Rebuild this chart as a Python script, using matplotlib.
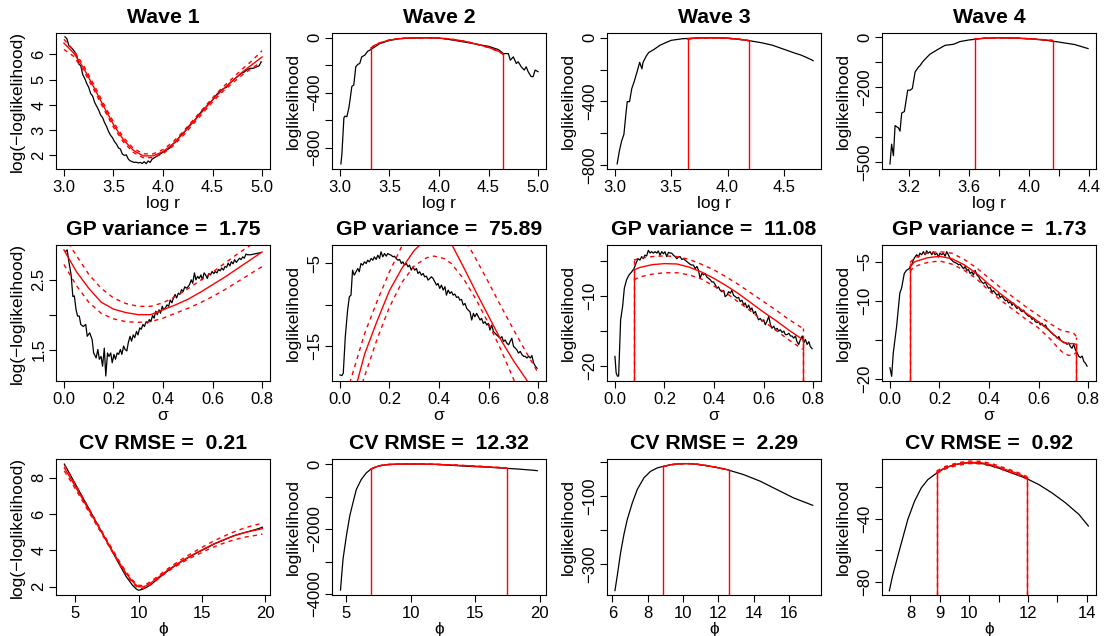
import matplotlib
matplotlib.use("Agg")
import matplotlib.pyplot as plt

plt.rcParams['font.family'] = ['Liberation Sans', 'DejaVu Sans']
plt.rcParams['axes.unicode_minus'] = True

# ---------------- Row 1: log r ----------------
w1_x = [3.01,3.03,3.05,3.07,3.09,3.11,3.13,3.15,3.17,3.19,3.21,3.23,3.25,3.27,3.29,3.31,3.33,3.35,3.37,3.39,
        3.41,3.43,3.45,3.47,3.49,3.51,3.53,3.55,3.57,3.59,3.61,3.63,3.65,3.67,3.69,3.71,3.73,3.75,3.77,3.79,
        3.81,3.83,3.85,3.87,3.89,3.91,3.93,3.95,3.97,3.99,4.01,4.04,4.07,4.10,4.13,4.16,4.19,4.22,4.25,4.28,
        4.31,4.34,4.37,4.40,4.43,4.46,4.49,4.52,4.55,4.58,4.61,4.64,4.67,4.70,4.73,4.76,4.79,4.82,4.85,4.88,
        4.91,4.94,4.97,4.99]
w1_y = [6.70,6.62,6.35,6.28,6.20,6.10,5.95,5.62,5.55,5.20,5.05,4.85,4.70,4.45,4.35,4.10,3.95,3.80,3.60,3.50,
        3.30,3.15,2.95,2.80,2.70,2.55,2.45,2.30,2.25,2.05,2.00,2.02,1.85,1.78,1.75,1.72,1.73,1.70,1.72,1.68,
        1.75,1.67,1.78,1.72,1.85,1.90,1.95,2.00,2.05,2.10,2.15,2.22,2.30,2.45,2.55,2.70,2.85,2.95,3.10,3.25,
        3.35,3.50,3.65,3.80,3.90,4.05,4.15,4.30,4.45,4.55,4.65,4.70,4.85,4.95,5.05,5.15,5.25,5.30,5.40,5.45,
        5.45,5.50,5.55,5.70]
w1_rx = [3.0,3.1,3.2,3.3,3.4,3.5,3.6,3.7,3.8,3.9,4.0,4.1,4.2,4.3,4.4,4.5,4.6,4.7,4.8,4.9,5.0]
w1_rc = [6.45,6.05,5.45,4.72,3.95,3.22,2.62,2.20,1.98,1.98,2.15,2.45,2.85,3.30,3.75,4.20,4.60,4.95,5.30,5.60,5.90]
w1_ru = [6.60,6.15,5.55,4.82,4.05,3.32,2.71,2.28,2.06,2.06,2.23,2.53,2.93,3.38,3.83,4.28,4.69,5.05,5.42,5.76,6.15]
w1_rl = [6.20,5.92,5.35,4.62,3.85,3.12,2.53,2.12,1.91,1.91,2.07,2.37,2.77,3.22,3.67,4.12,4.52,4.86,5.19,5.46,5.72]

w2_x = [3.01,3.02,3.04,3.05,3.07,3.09,3.10,3.12,3.14,3.16,3.18,3.20,3.22,3.25,3.28,3.30,3.35,3.40,3.50,3.60,
        3.70,3.80,3.90,4.00,4.10,4.20,4.30,4.40,4.50,4.55,4.60,4.65,4.70,4.72,4.75,4.78,4.80,4.83,4.86,4.88,
        4.90,4.93,4.95,4.97,5.00]
w2_y = [-919,-847,-583,-571,-575,-511,-463,-355,-343,-211,-194,-187,-139,-127,-98,-91,-67,-43,-19,-7,
        -2,-1,0,-2,-12,-24,-36,-50,-62,-74,-86,-115,-115,-163,-139,-187,-175,-211,-235,-211,
        -247,-283,-283,-235,-247]
w2_rx = [3.314,3.35,3.4,3.5,3.6,3.7,3.8,3.9,4.0,4.1,4.2,4.3,4.4,4.5,4.6,4.649]
w2_rc = [-75,-55,-38,-16,-6,-1,0,0,-2,-8,-18,-32,-50,-70,-98,-120]

w3_x = [3.02,3.04,3.06,3.08,3.10,3.11,3.13,3.15,3.17,3.20,3.22,3.24,3.25,3.28,3.30,3.35,3.40,3.45,3.50,3.60,
        3.70,3.80,3.90,4.00,4.10,4.20,4.30,4.40,4.50,4.60,4.65,4.70,4.72,4.74,4.76]
w3_y = [-792,-710,-648,-607,-463,-401,-401,-319,-278,-206,-154,-195,-154,-113,-93,-72,-47,-31,-16,-6,
        -2,0,0,-2,-10,-19,-31,-47,-72,-97,-108,-123,-130,-136,-144]
w3_rx = [3.645,3.7,3.8,3.9,4.0,4.1,4.192]
w3_rc = [-8,-3,-1,-1,-3,-9,-18]

w4_x = [3.073,3.084,3.096,3.107,3.129,3.14,3.151,3.169,3.191,3.207,3.222,3.24,3.262,3.273,3.289,3.307,3.34,
        3.396,3.44,3.496,3.54,3.596,3.696,3.796,3.896,3.996,4.096,4.196,4.302,4.391]
w4_y = [-506,-427,-473,-353,-362,-375,-303,-297,-212,-212,-205,-140,-120,-114,-100,-88,-68,
        -48,-33,-29,-18,-12,-5,-3,-4,-7,-12,-20,-30,-46]
w4_rx = [3.636,3.7,3.8,3.9,4.0,4.1,4.156]
w4_rc = [-8,-5,-3,-4,-7,-11,-14]

# ---------------- Row 2: sigma ----------------
s5_x = [0.006,0.013,0.020,0.029,0.036,0.042,0.049,0.055,0.062,0.068,0.078,0.088,0.094,0.104,0.114,0.120,0.130,0.137,0.143,0.150,
        0.156,0.163,0.169,0.176,0.182,0.189,0.195,0.202,0.208,0.215,0.221,0.228,0.234,0.241,0.247,0.254,0.260,0.267,0.273,0.280,
        0.286,0.293,0.299,0.306,0.312,0.319,0.325,0.332,0.338,0.345,0.351,0.358,0.364,0.371,0.377,0.384,0.390,0.397,0.403,0.410,
        0.416,0.423,0.429,0.436,0.442,0.449,0.455,0.462,0.468,0.475,0.481,0.488,0.494,0.501,0.507,0.514,0.520,0.527,0.533,0.540,
        0.546,0.553,0.559,0.566,0.572,0.579,0.585,0.592,0.598,0.605,0.611,0.618,0.624,0.631,0.637,0.644,0.650,0.657,0.663,0.670,
        0.676,0.683,0.689,0.696,0.702,0.709,0.715,0.722,0.728,0.735,0.741,0.754,0.767,0.780,0.793]
s5_y = [2.905,2.93,2.76,2.57,2.26,2.27,2.07,1.98,1.98,1.86,1.83,1.86,1.69,1.74,1.64,1.45,1.38,1.50,1.36,1.40,
        1.26,1.52,1.12,1.45,1.40,1.45,1.31,1.43,1.36,1.45,1.43,1.50,1.43,1.55,1.50,1.48,1.60,1.69,1.62,1.71,
        1.67,1.76,1.71,1.81,1.79,1.86,1.83,1.90,1.88,1.93,1.90,1.99,1.95,2.05,2.00,2.07,2.02,2.12,2.07,2.10,
        2.14,2.12,2.21,2.17,2.24,2.29,2.24,2.31,2.29,2.36,2.33,2.40,2.38,2.40,2.43,2.50,2.45,2.60,2.50,2.55,
        2.52,2.57,2.50,2.60,2.57,2.52,2.59,2.57,2.62,2.59,2.62,2.60,2.65,2.63,2.67,2.64,2.69,2.68,2.74,2.70,
        2.76,2.73,2.79,2.75,2.78,2.81,2.79,2.83,2.81,2.87,2.86,2.86,2.87,2.88,2.89]
s5_rx = [0.0,0.05,0.1,0.15,0.2,0.25,0.3,0.35,0.4,0.45,0.5,0.55,0.6,0.65,0.7,0.75,0.8]
s5_rc = [2.93,2.62,2.38,2.18,2.08,2.03,2.00,2.00,2.07,2.14,2.22,2.32,2.43,2.54,2.66,2.78,2.90]
s5_ru = [3.13,2.85,2.58,2.38,2.24,2.16,2.12,2.12,2.17,2.26,2.37,2.49,2.61,2.74,2.87,2.99,3.10]
s5_rl = [2.72,2.42,2.18,2.02,1.94,1.90,1.89,1.90,1.95,2.02,2.09,2.17,2.26,2.36,2.47,2.58,2.69]

s6_x = [0.0,0.008,0.0135,0.0217,0.031,0.038,0.0447,0.051,0.058,0.065,0.072,0.078,0.085,0.092,0.099,0.106,0.112,0.119,0.126,0.133,
        0.139,0.146,0.153,0.16,0.166,0.173,0.18,0.187,0.193,0.2,0.207,0.214,0.22,0.227,0.234,0.241,0.248,0.254,0.261,0.268,
        0.275,0.281,0.288,0.295,0.302,0.309,0.315,0.322,0.329,0.336,0.342,0.349,0.356,0.363,0.369,0.376,0.383,0.39,0.396,0.403,
        0.41,0.417,0.424,0.43,0.437,0.444,0.451,0.457,0.464,0.471,0.478,0.484,0.491,0.498,0.505,0.512,0.518,0.525,0.532,0.539,
        0.545,0.552,0.559,0.566,0.572,0.579,0.586,0.593,0.599,0.606,0.613,0.62,0.627,0.633,0.64,0.647,0.654,0.66,0.667,0.674,
        0.681,0.687,0.694,0.701,0.708,0.714,0.721,0.728,0.735,0.742,0.748,0.755,0.762,0.769,0.775,0.782,0.789,0.796]
s6_y = [-18.56,-18.64,-18.36,-13.9,-10.67,-9.05,-8.85,-5.81,-6.42,-6.01,-5.61,-6.01,-5.0,-5.2,-4.8,-5.0,-4.6,-4.8,-4.39,-4.6,
        -4.19,-4.51,-3.99,-4.39,-3.58,-4.19,-3.79,-4.11,-3.79,-3.91,-3.99,-4.19,-4.11,-4.39,-4.6,-4.51,-5.0,-4.8,-5.2,-5.0,
        -5.4,-5.2,-5.81,-5.4,-5.81,-5.61,-6.21,-6.01,-6.42,-6.21,-6.62,-6.54,-7.02,-6.82,-6.62,-6.82,-7.23,-7.63,-7.43,-8.04,
        -7.63,-8.24,-7.83,-8.85,-8.24,-8.64,-8.44,-8.85,-8.72,-9.13,-9.05,-9.45,-9.37,-10.06,-9.86,-10.47,-10.67,-10.87,-11.88,-11.07,
        -11.48,-11.07,-11.48,-11.88,-11.68,-12.29,-12.09,-12.49,-12.29,-13.1,-12.49,-13.3,-13.5,-13.7,-13.9,-14.1,-13.9,-14.5,-14.3,-14.7,
        -14.9,-14.5,-14.1,-15.1,-15.3,-15.5,-15.9,-15.7,-16.1,-16.3,-16.3,-16.5,-16.3,-16.5,-16.2,-17.1,-17.5,-17.75]
s6_cx = [0.06,0.1,0.15,0.2,0.25,0.3,0.35,0.4,0.45,0.5,0.55,0.6,0.65,0.7,0.75,0.78]
s6_cy = [-20.5,-16.0,-12.0,-8.3,-5.6,-3.4,-2.0,-1.6,-2.6,-5.5,-8.5,-11.4,-14.3,-16.8,-19.0,-20.5]
s6_ux = [0.03,0.1,0.15,0.2,0.25,0.3,0.35,0.4,0.45,0.5,0.55,0.6,0.65,0.7,0.75,0.8]
s6_uy = [-20.5,-13.5,-9.6,-6.0,-2.9,-0.8,0.3,0.5,-0.3,-1.8,-4.5,-7.3,-10.2,-13.0,-15.7,-18.3]
s6_lx = [0.08,0.15,0.2,0.25,0.3,0.35,0.38,0.42,0.45,0.5,0.55,0.6,0.65,0.7,0.73]
s6_ly = [-20.5,-14.2,-10.3,-7.3,-5.3,-4.3,-4.1,-4.4,-5.0,-6.9,-9.4,-12.3,-15.5,-19.0,-21.0]

s7_x = [0.0,0.005,0.01,0.015,0.023,0.031,0.038,0.047,0.057,0.067,0.077,0.088,0.094,0.101,0.108,0.115,0.121,0.128,0.135,0.142,
        0.148,0.155,0.162,0.169,0.175,0.182,0.189,0.196,0.202,0.209,0.216,0.223,0.229,0.236,0.243,0.25,0.256,0.263,0.27,0.277,
        0.283,0.29,0.297,0.304,0.31,0.317,0.324,0.331,0.337,0.344,0.351,0.358,0.364,0.371,0.378,0.385,0.391,0.398,0.405,0.412,
        0.418,0.425,0.432,0.439,0.445,0.452,0.459,0.466,0.472,0.479,0.486,0.493,0.499,0.506,0.513,0.52,0.526,0.533,0.54,0.547,
        0.553,0.56,0.567,0.574,0.58,0.587,0.594,0.601,0.607,0.614,0.621,0.628,0.634,0.641,0.648,0.655,0.661,0.668,0.675,0.682,
        0.688,0.695,0.702,0.709,0.715,0.722,0.729,0.735,0.742,0.749,0.756,0.762,0.769,0.776,0.783,0.789,0.796]
s7_y = [-18.6,-20.95,-21.4,-21.4,-13.4,-11.5,-8.9,-7.7,-7.0,-6.6,-6.1,-5.1,-4.7,-4.9,-4.4,-4.7,-4.2,-4.3,-3.5,-3.9,
        -3.7,-3.9,-3.7,-3.9,-3.6,-4.2,-3.7,-4.0,-3.7,-4.4,-3.8,-3.9,-3.9,-4.2,-4.4,-4.7,-4.5,-4.4,-4.8,-4.7,
        -4.9,-5.1,-5.3,-5.5,-5.6,-5.6,-6.1,-5.8,-6.3,-7.5,-6.8,-7.0,-6.8,-7.3,-7.5,-7.7,-8.0,-8.0,-8.4,-8.9,
        -8.7,-9.2,-9.4,-9.2,-10.1,-9.9,-9.4,-9.6,-9.2,-9.9,-10.1,-10.3,-10.2,-10.8,-10.6,-11.3,-11.0,-11.7,-11.3,-12.0,
        -11.7,-12.5,-12.2,-12.9,-13.4,-13.2,-13.6,-13.4,-14.1,-13.6,-12.9,-14.1,-14.6,-14.3,-14.8,-14.6,-15.0,-14.8,-15.2,-15.0,
        -15.5,-15.5,-15.3,-15.7,-15.7,-16.0,-15.7,-16.5,-16.9,-16.2,-15.7,-16.7,-16.2,-16.9,-16.5,-17.2,-17.5]
s7_rx = [0.077,0.1,0.15,0.2,0.25,0.3,0.35,0.4,0.45,0.5,0.55,0.6,0.65,0.7,0.758]
s7_rc = [-6.3,-5.95,-5.55,-5.4,-5.45,-5.9,-6.6,-7.5,-8.55,-9.7,-11.0,-12.3,-13.5,-14.8,-16.2]
s7_ru = [-4.9,-4.6,-4.4,-4.3,-4.4,-4.8,-5.5,-6.3,-7.3,-8.4,-9.6,-10.8,-12.0,-13.3,-14.6]
s7_rl = [-7.7,-7.3,-6.9,-6.7,-6.7,-7.0,-7.6,-8.6,-9.6,-10.9,-12.2,-13.6,-14.9,-16.2,-17.6]

s8_x = [0.0,0.007,0.0135,0.027,0.04,0.047,0.058,0.067,0.077,0.088,0.094,0.101,0.108,0.115,0.121,0.128,0.135,0.142,0.148,0.155,
        0.162,0.169,0.175,0.182,0.189,0.196,0.202,0.209,0.216,0.223,0.229,0.236,0.243,0.25,0.256,0.263,0.27,0.277,0.283,0.29,
        0.297,0.304,0.31,0.317,0.324,0.331,0.337,0.344,0.351,0.358,0.364,0.371,0.378,0.385,0.391,0.398,0.405,0.412,0.418,0.425,
        0.432,0.439,0.445,0.452,0.459,0.466,0.472,0.479,0.486,0.493,0.499,0.506,0.513,0.52,0.526,0.533,0.54,0.547,0.553,0.56,
        0.567,0.574,0.58,0.587,0.594,0.601,0.607,0.614,0.621,0.628,0.634,0.641,0.648,0.655,0.661,0.668,0.675,0.682,0.688,0.695,
        0.702,0.709,0.715,0.722,0.729,0.735,0.742,0.749,0.756,0.762,0.769,0.776,0.783,0.789,0.796]
s8_y = [-18.6,-19.7,-16.7,-13.3,-9.0,-8.4,-6.5,-6.1,-5.9,-5.4,-4.8,-4.4,-4.1,-4.4,-3.9,-4.1,-3.7,-4.1,-3.6,-3.9,
        -3.7,-4.1,-3.7,-4.1,-3.9,-4.4,-3.9,-4.1,-3.9,-4.3,-3.7,-4.1,-4.6,-4.8,-5.0,-5.1,-5.2,-5.4,-5.3,-5.6,
        -5.9,-5.6,-6.1,-6.0,-6.5,-6.3,-6.7,-6.1,-6.7,-6.9,-7.3,-7.6,-7.8,-7.6,-8.0,-8.4,-8.3,-8.9,-8.7,-9.0,
        -9.3,-9.1,-9.6,-9.4,-9.7,-10.0,-9.9,-10.3,-10.1,-10.6,-10.3,-10.7,-11.0,-10.8,-11.2,-11.4,-11.2,-11.6,-11.8,-12.0,
        -12.0,-12.4,-12.2,-12.7,-12.8,-12.7,-13.1,-12.9,-13.3,-13.1,-13.5,-13.7,-14.0,-14.2,-14.4,-14.5,-14.8,-14.6,-15.0,-15.2,
        -15.4,-15.4,-15.6,-15.4,-15.9,-16.1,-15.6,-16.3,-16.7,-17.1,-17.3,-17.1,-17.8,-18.0,-18.4]
s8_rx = [0.081,0.1,0.15,0.2,0.25,0.3,0.35,0.4,0.45,0.5,0.55,0.6,0.65,0.68,0.7,0.72,0.74,0.753]
s8_rc = [-5.6,-5.0,-4.5,-4.3,-4.6,-5.4,-6.5,-7.9,-9.2,-10.4,-11.6,-12.7,-14.0,-14.9,-15.3,-15.5,-15.5,-15.6]
s8_ru = [-5.1,-4.5,-3.9,-3.7,-3.9,-4.7,-5.8,-7.1,-8.4,-9.6,-10.8,-11.9,-13.0,-13.6,-13.9,-14.0,-14.1,-14.6]
s8_rl = [-6.2,-5.6,-5.1,-4.9,-5.3,-6.1,-7.2,-8.7,-10.0,-11.2,-12.4,-13.5,-15.0,-16.1,-16.7,-17.0,-17.0,-16.6]

# ---------------- Row 3: phi ----------------
p9_x = [4.13,4.5,5,5.5,6,6.5,7,7.5,8,8.5,9,9.5,9.8,10,10.3,10.6,11,11.5,12,12.5,
        13,13.5,14,14.5,15,15.5,16,16.5,17,17.5,18,18.5,19,19.5,19.8]
p9_y = [8.76,8.29,7.66,7.02,6.39,5.75,5.12,4.48,3.85,3.20,2.58,2.10,1.88,1.80,1.85,1.95,2.12,2.42,2.70,2.97,
        3.20,3.43,3.63,3.82,4.00,4.17,4.36,4.50,4.65,4.80,4.91,5.00,5.10,5.20,5.28]
p9_rc = [8.55,8.12,7.52,6.92,6.30,5.70,5.10,4.50,3.90,3.30,2.75,2.30,2.10,2.00,1.98,2.05,2.22,2.48,2.75,3.00,
         3.23,3.45,3.65,3.84,4.02,4.20,4.37,4.52,4.66,4.79,4.90,5.00,5.08,5.15,5.20]
p9_ru = [8.72,8.27,7.65,7.03,6.40,5.79,5.18,4.58,3.98,3.38,2.83,2.38,2.18,2.08,2.06,2.13,2.30,2.56,2.83,3.08,
         3.32,3.55,3.76,3.96,4.16,4.35,4.54,4.70,4.86,5.01,5.14,5.26,5.36,5.45,5.50]
p9_rl = [8.38,7.97,7.39,6.81,6.20,5.61,5.02,4.42,3.82,3.22,2.67,2.22,2.02,1.92,1.90,1.97,2.14,2.40,2.67,2.92,
         3.14,3.35,3.54,3.72,3.88,4.05,4.20,4.34,4.46,4.57,4.66,4.74,4.80,4.85,4.90]

p10_x = [4.54,4.64,4.74,5.0,5.26,5.51,5.77,6.15,6.54,6.92,7.56,8.33,9.36,10.64,11.92,13.2,14.49,15.77,17.05,18.33,19.62,19.82]
p10_y = [-3878,-3380,-2914,-2203,-1594,-1188,-782,-477,-274,-152,-51,-10,0,0,-10,-41,-72,-92,-123,-154,-195,-205]
p10_rx = [6.92,7.3,7.7,8.2,9.0,10.0,11.0,12.0,13.0,14.0,15.0,16.0,17.0,17.46]
p10_rc = [-152,-85,-45,-18,-3,0,-2,-10,-25,-45,-65,-88,-112,-130]

p11_x = [6.15,6.28,6.47,6.66,6.85,7.13,7.41,7.79,8.16,8.54,8.91,9.29,9.67,10.04,10.42,10.79,11.55,12.49,13.42,14.36,15.3,16.24,17.33]
p11_y = [-378,-334,-266,-212,-168,-120,-80.5,-46,-27,-17,-12,-7.3,-5.4,-4.4,-4.4,-6.3,-12.2,-22,-36.6,-56,-80.5,-105,-127]
p11_rx = [8.88,9.3,9.7,10.0,10.4,10.8,11.2,11.6,12.0,12.58]
p11_rc = [-13,-7.8,-5.3,-4.4,-4.4,-6.2,-9,-12.5,-16.5,-23]

p12_x = [7.28,7.39,7.57,7.74,7.91,8.14,8.37,8.59,8.82,9.17,9.51,9.85,10.19,10.54,10.99,11.45,11.91,12.37,12.82,13.28,13.74,14.06]
p12_y = [-85.7,-76.2,-63.6,-52.0,-40.4,-28.8,-20.4,-15.2,-12.0,-7.8,-5.7,-4.6,-4.6,-5.3,-7.8,-11.0,-14.1,-18.3,-23.6,-29.9,-37.3,-44.6]
p12_rx = [8.89,9.2,9.6,10.0,10.4,10.8,11.2,11.6,11.97]
p12_rc = [-10.5,-7.5,-5.3,-4.2,-4.4,-6.0,-8.5,-11.0,-14.0]
p12_ru = [-9.7,-6.7,-4.5,-3.4,-3.6,-5.2,-7.7,-10.2,-13.2]
p12_rl = [-11.3,-8.3,-6.1,-5.0,-5.2,-6.8,-9.3,-11.8,-14.8]

titles = ["Wave 1", "Wave 2", "Wave 3", "Wave 4",
          "GP variance =  1.75", "GP variance =  75.89", "GP variance =  11.08", "GP variance =  1.73",
          "CV RMSE =  0.21", "CV RMSE =  12.32", "CV RMSE =  2.29", "CV RMSE =  0.92"]
xlabels = ["log r", "σ", "ϕ"]
ylab_first = "log(−loglikelihood)"
ylab_other = "loglikelihood"

# ---------------- layout / style ----------------
W, H = 1109, 636
fig = plt.figure(figsize=(W / 100, H / 100), dpi=100)
fig.patch.set_facecolor('white')
col_left = [56, 332, 607, 882]
row_top = [33, 245, 459]
AW, AH = 214, 136
LW = 1.0
DASH = (0, (3.0, 3.0))


def make_ax(r, c):
    return fig.add_axes([col_left[c] / W, (H - row_top[r] - AH) / H, AW / W, AH / H])


def style(ax, idx, xlim, ylim, xt, xtl, yt, ytl):
    r, c = divmod(idx, 4)
    ax.set_xlim(xlim)
    ax.set_ylim(ylim)
    ax.set_xticks(xt)
    ax.set_xticklabels(xtl)
    ax.set_yticks(yt)
    ax.set_yticklabels(ytl, rotation=90, va='center')
    ax.tick_params(direction='out', length=5, width=0.8, labelsize=12, colors='black')
    ax.tick_params(axis='x', pad=3)
    ax.tick_params(axis='y', pad=2)
    for s in ax.spines.values():
        s.set_linewidth(0.8)
    ax.set_title(titles[idx], fontsize=15.3, fontweight='bold', pad=7)
    ax.set_xlabel(xlabels[r], fontsize=12.5)
    ax.set_ylabel(ylab_first if c == 0 else ylab_other, fontsize=12.5)
    ax.xaxis.set_label_coords(0.5, -0.2)
    ax.yaxis.set_label_coords(-0.145, 0.5)


def black(ax, x, y):
    ax.plot(x, y, color='black', lw=0.9)


def red(ax, x, c, u=None, l=None, drop=False):
    ax.plot(x, c, color='red', lw=LW)
    ax.plot(x, u if u is not None else c, color='red', lw=LW, ls=DASH)
    ax.plot(x, l if l is not None else c, color='red', lw=LW, ls=DASH)
    if drop:
        y0 = ax.get_ylim()[0]
        for i in (0, -1):
            ax.plot([x[i], x[i]], [y0, c[i]], color='red', lw=LW)
            if u is not None:
                ax.plot([x[i], x[i]], [y0, u[i]], color='red', lw=LW, ls=DASH)


M = "\u2212"

# Panel 1
ax = make_ax(0, 0)
style(ax, 0, (2.92, 5.08), (1.46, 6.85), [3.0, 3.5, 4.0, 4.5, 5.0], ["3.0", "3.5", "4.0", "4.5", "5.0"],
      [2, 3, 4, 5, 6], ["2", "3", "4", "5", "6"])
black(ax, w1_x, w1_y)
red(ax, w1_rx, w1_rc, w1_ru, w1_rl)

# Panel 2
ax = make_ax(0, 1)
style(ax, 1, (2.92, 5.08), (-956, 35), [3.0, 3.5, 4.0, 4.5, 5.0], ["3.0", "3.5", "4.0", "4.5", "5.0"],
      [0, -200, -400, -600, -800], ["0", "", M + "400", "", M + "800"])
black(ax, w2_x, w2_y)
red(ax, w2_rx, w2_rc, drop=True)

# Panel 3
ax = make_ax(0, 2)
style(ax, 2, (2.93, 4.83), (-824, 30), [3.0, 3.5, 4.0, 4.5], ["3.0", "3.5", "4.0", "4.5"],
      [0, -200, -400, -600, -800], ["0", "", M + "400", "", M + "800"])
black(ax, w3_x, w3_y)
red(ax, w3_rx, w3_rc, drop=True)

# Panel 4
ax = make_ax(0, 3)
style(ax, 3, (3.02, 4.444), (-526, 16), [3.2, 3.4, 3.6, 3.8, 4.0, 4.2, 4.4], ["3.2", "", "3.6", "", "4.0", "", "4.4"],
      [0, -100, -200, -300, -400, -500], ["0", "", M + "200", "", "", M + "500"])
black(ax, w4_x, w4_y)
red(ax, w4_rx, w4_rc, drop=True)

sx = [0.0, 0.2, 0.4, 0.6, 0.8]
sxl = ["0.0", "0.2", "0.4", "0.6", "0.8"]
# Panel 5
ax = make_ax(1, 0)
style(ax, 4, (-0.032, 0.832), (1.048, 3.0), sx, sxl, [1.5, 2.0, 2.5], ["1.5", "", "2.5"])
black(ax, s5_x, s5_y)
red(ax, s5_rx, s5_rc, s5_ru, s5_rl)

# Panel 6
ax = make_ax(1, 1)
style(ax, 5, (-0.032, 0.832), (-19.3, -2.75), sx, sxl, [-5, -10, -15], [M + "5", "", M + "15"])
black(ax, s6_x, s6_y)
ax.plot(s6_cx, s6_cy, color='red', lw=LW)
ax.plot(s6_ux, s6_uy, color='red', lw=LW, ls=DASH)
ax.plot(s6_lx, s6_ly, color='red', lw=LW, ls=DASH)

# Panel 7
ax = make_ax(1, 2)
style(ax, 6, (-0.032, 0.832), (-22.1, -2.75), sx, sxl, [-5, -10, -15, -20], ["", M + "10", "", M + "20"])
black(ax, s7_x, s7_y)
red(ax, s7_rx, s7_rc, s7_ru, s7_rl, drop=True)

# Panel 8
ax = make_ax(1, 3)
style(ax, 7, (-0.032, 0.832), (-20.3, -2.85), sx, sxl, [-5, -10, -15, -20], [M + "5", M + "10", "", M + "20"])
black(ax, s8_x, s8_y)
red(ax, s8_rx, s8_rc, s8_ru, s8_rl, drop=True)

# Panel 9
ax = make_ax(2, 0)
style(ax, 8, (3.47, 20.4), (1.54, 9.04), [5, 10, 15, 20], ["5", "10", "15", "20"], [2, 4, 6, 8], ["2", "4", "6", "8"])
black(ax, p9_x, p9_y)
red(ax, p9_x, p9_rc, p9_ru, p9_rl)

# Panel 10
ax = make_ax(2, 1)
style(ax, 9, (3.88, 20.5), (-4030, 155), [5, 10, 15, 20], ["5", "10", "15", "20"],
      [0, -1000, -2000, -3000, -4000], ["0", "", M + "2000", "", M + "4000"])
black(ax, p10_x, p10_y)
red(ax, p10_rx, p10_rc, drop=True)

# Panel 11
ax = make_ax(2, 2)
style(ax, 10, (5.7, 17.8), (-391, 9.3), [6, 8, 10, 12, 14, 16], ["6", "8", "10", "12", "14", "16"],
      [0, -100, -200, -300], ["", M + "100", "", M + "300"])
black(ax, p11_x, p11_y)
red(ax, p11_rx, p11_rc, drop=True)

# Panel 12
ax = make_ax(2, 3)
style(ax, 11, (7.03, 14.32), (-88.4, -2.1), [8, 9, 10, 11, 12, 13, 14], ["8", "9", "10", "", "12", "", "14"],
      [-20, -40, -60, -80], ["", M + "40", "", M + "80"])
black(ax, p12_x, p12_y)
red(ax, p12_rx, p12_rc, p12_ru, p12_rl, drop=True)

fig.savefig("out.png", dpi=100)
